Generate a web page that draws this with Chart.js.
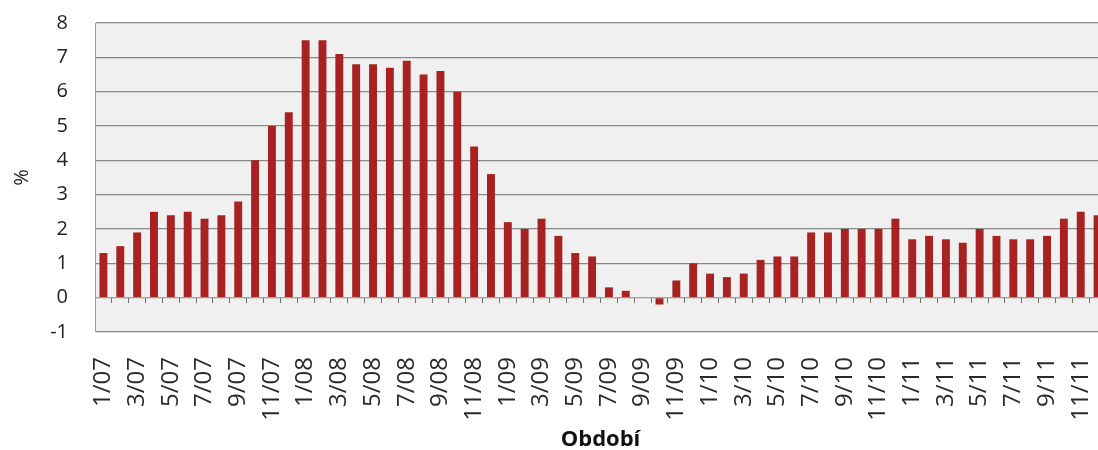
<!DOCTYPE html>
<html>
<head>
<meta charset="utf-8">
<script src="https://cdn.jsdelivr.net/npm/chart.js@4.4.1/dist/chart.umd.min.js"></script>
<style>
  html, body { margin: 0; padding: 0; background: #ffffff; overflow: hidden; }
  #wrap { width: 1106px; height: 450px; }
</style>
</head>
<body>
<div id="wrap"><canvas id="c" width="1106" height="450"></canvas></div>
<script>
// Monthly periods, January 2007 – December 2011
const months = [
  '1/07','2/07','3/07','4/07','5/07','6/07','7/07','8/07','9/07','10/07','11/07','12/07',
  '1/08','2/08','3/08','4/08','5/08','6/08','7/08','8/08','9/08','10/08','11/08','12/08',
  '1/09','2/09','3/09','4/09','5/09','6/09','7/09','8/09','9/09','10/09','11/09','12/09',
  '1/10','2/10','3/10','4/10','5/10','6/10','7/10','8/10','9/10','10/10','11/10','12/10',
  '1/11','2/11','3/11','4/11','5/11','6/11','7/11','8/11','9/11','10/11','11/11','12/11'
];

// Year-on-year change, %
const inflation = [
  1.3, 1.5, 1.9, 2.5, 2.4, 2.5, 2.3, 2.4, 2.8, 4.0, 5.0, 5.4,
  7.5, 7.5, 7.1, 6.8, 6.8, 6.7, 6.9, 6.5, 6.6, 6.0, 4.4, 3.6,
  2.2, 2.0, 2.3, 1.8, 1.3, 1.2, 0.3, 0.2, 0.0, -0.2, 0.5, 1.0,
  0.7, 0.6, 0.7, 1.1, 1.2, 1.2, 1.9, 1.9, 2.0, 2.0, 2.0, 2.3,
  1.7, 1.8, 1.7, 1.6, 2.0, 1.8, 1.7, 1.7, 1.8, 2.3, 2.5, 2.4
];

// Period labels printed under the axis (every second month)
const tickLabels = [
  '1/07','3/07','5/07','7/07','9/07','11/07',
  '1/08','3/08','5/08','7/08','9/08','11/08',
  '1/09','3/09','5/09','7/09','9/09','11/09',
  '1/10','3/10','5/10','7/10','9/10','11/10',
  '1/11','3/11','5/11','7/11','9/11','11/11'
];

const yTicks = [-1, 0, 1, 2, 3, 4, 5, 6, 7, 8];

const FONT = '"Open Sans", "Liberation Sans", sans-serif';
const PLOT_LEFT = 95;

// Light grey plot background
const plotBackground = {
  id: 'plotBackground',
  beforeDraw(chart) {
    const { ctx, chartArea: a } = chart;
    ctx.save();
    ctx.fillStyle = '#f0f0f0';
    ctx.fillRect(a.left, a.top, a.right - a.left, a.bottom - a.top);
    ctx.restore();
  }
};

// Shaded bar fill: lighter on the left, darker on the right
function barFill(context) {
  const chart = context.chart;
  const el = context.element;
  if (!chart.chartArea || !el || !isFinite(el.x) || !el.width) return '#a82222';
  const half = el.width / 2;
  const g = chart.ctx.createLinearGradient(el.x - half, 0, el.x + half, 0);
  g.addColorStop(0, '#c23a3a');
  g.addColorStop(0.45, '#ac2424');
  g.addColorStop(1, '#7a1212');
  return g;
}

new Chart(document.getElementById('c'), {
  type: 'bar',
  data: {
    labels: months,
    datasets: [{
      data: inflation,
      xAxisID: 'x',
      yAxisID: 'y',
      backgroundColor: barFill,
      borderWidth: 0,
      categoryPercentage: 1.0,
      barPercentage: 0.47
    }]
  },
  options: {
    responsive: false,
    animation: false,
    events: [],
    layout: { padding: { top: 23, right: 0, bottom: 0, left: 0 } },
    plugins: {
      legend: { display: false },
      tooltip: { enabled: false },
      title: { display: false }
    },
    scales: {
      y: {
        position: 'left',
        min: -1,
        max: 8,
        afterBuildTicks: (s) => { s.ticks = yTicks.map(v => ({ value: v })); },
        afterFit: (s) => { s.width = PLOT_LEFT; s.paddingTop = 0; s.paddingBottom = 0; },
        ticks: {
          color: '#222222',
          font: { family: FONT, size: 20 },
          padding: 27
        },
        grid: { color: '#888888', lineWidth: 1.2, drawTicks: false },
        border: { display: true, color: '#9a9a9a', width: 1 },
        title: {
          display: true,
          text: '%',
          color: '#222222',
          font: { family: FONT, size: 20 },
          padding: { top: 10, bottom: 0 }
        }
      },
      // Category axis crossing at zero, with small tick marks between months
      x: {
        type: 'category',
        position: { y: 0 },
        offset: true,
        ticks: { display: false },
        grid: {
          offset: true,
          drawOnChartArea: false,
          drawTicks: true,
          tickLength: 5,
          color: '#707070',
          lineWidth: 1
        },
        border: { display: true, color: '#a0a0a0', width: 1 }
      },
      // Period labels along the bottom edge
      xl: {
        type: 'category',
        position: 'bottom',
        offset: true,
        afterFit: (s) => { s.height = 118; s.paddingLeft = 0; s.paddingRight = 0; },
        ticks: {
          autoSkip: false,
          minRotation: 90,
          maxRotation: 90,
          padding: 25,
          color: '#2a2a2a',
          font: { family: FONT, size: 24 },
          callback: (v, i) => (tickLabels.includes(months[i]) ? months[i] : '')
        },
        grid: { display: false, drawTicks: false },
        border: { display: false },
        title: {
          display: true,
          text: 'Období',
          color: '#111111',
          font: { family: FONT, size: 22, weight: 'bold' },
          padding: { top: 0, bottom: -3 }
        }
      }
    }
  },
  plugins: [plotBackground]
});
</script>
</body>
</html>
